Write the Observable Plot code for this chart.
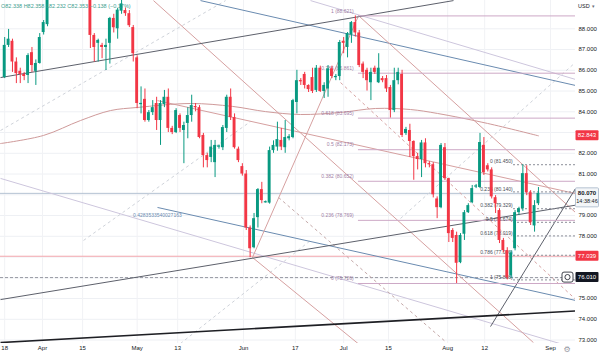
<!DOCTYPE html>
<html><head><meta charset="utf-8">
<script src="https://cdn.jsdelivr.net/npm/d3@7"></script>
<script src="https://cdn.jsdelivr.net/npm/@observablehq/plot@0.6"></script>
<style>
body{margin:0;background:#fff;}
#chart{width:600px;height:355px;overflow:hidden;}
</style>
</head><body><div id="chart"></div>
<script>
// ---- candle data (daily, index k from Mar 18 = 0; first visible candle k = 4) ----
const firstK = 4;
const opens = [85.65,87.2,87.4,86.4,85.95,85.8,85.75,86.85,85.95,86.33,87.82,88.2,89.6,90.2,90.0,90.8,90.4,90.5,91.0,90.3,89.9,90.1,
89.9,87.68,87.3,87.2,87.1,87.3,88.5,88.0,88.85,88.88,88.73,88.06,86.6,84.35,84.6,83.58,83.96,84.4,83.58,84.35,84.7,83.2,83.0,83.82,83.1,83.44,
83.82,84.25,84.2,82.86,81.89,81.8,81.55,82.3,82.27,83.2,84.7,83.72,82.2,81.36,81.0,78.4,77.45,78.9,80.25,79.62,79.6,82.13,82.3,82.62,82.27,82.7,
82.76,84.45,85.5,85.8,85.27,85.65,85.03,86.1,84.98,85.1,86.07,85.65,85.7,87.4,87.1,87.7,88.3,87.8,86.3,86.0,85.4,86.1,85.4,85.6,85.6,85.17,
84.06,85.5,85.8,82.95,83.1,82.57,81.84,81.7,82.5,81.5,81.45,79.8,79.38,82.27,80.78,78.28,78.04,76.73,78.1,79.14,79.62,80.38,80.35,82.38,81.4,81.2,
79.86,79.24,77.8,77.31,76.1,77.4,79.14,79.33,81.02,80.1,78.5,79.57];
const highs = [87.58,87.97,87.5,86.6,86.1,85.9,86.8,87.1,86.5,87.77,88.4,89.9,90.5,90.6,91.0,91.2,90.9,91.3,91.2,90.6,90.3,90.4,
90.1,87.77,87.5,87.3,87.5,88.55,88.7,88.98,89.4,89.0,88.88,88.16,86.7,85.2,85.1,84.06,84.54,84.7,84.54,85.03,85.1,83.3,84.15,83.9,83.5,84.2,
84.8,84.4,84.3,82.96,82.0,82.62,82.62,82.4,83.34,84.8,85.1,83.9,82.3,81.5,81.17,78.5,79.1,80.3,80.6,79.7,82.3,82.6,83.5,83.2,83.58,82.9,
84.6,86.0,85.6,85.9,85.3,86.1,86.23,86.2,85.4,86.23,86.2,85.8,87.44,87.58,87.82,88.35,88.621,87.92,86.4,86.1,86.1,86.2,86.8,85.7,85.75,85.27,
86.1,86.1,86.0,83.25,83.4,82.6,82.0,82.62,82.7,81.6,81.55,79.9,82.47,82.47,80.8,78.37,78.2,78.13,79.24,79.57,80.45,80.5,82.96,82.76,81.5,81.3,
79.96,79.33,77.9,77.45,77.3,79.24,79.4,81.45,81.4,80.2,79.72,80.35];
const lows = [85.6,87.1,85.9,85.36,85.36,85.5,85.36,85.9,85.27,86.3,87.7,88.1,89.4,89.7,89.8,90.1,90.0,90.0,89.9,89.6,89.6,89.7,
87.05,86.4,86.4,86.56,85.99,86.3,87.8,87.5,88.7,88.6,88.06,86.4,84.15,83.9,83.5,83.5,83.82,83.1,82.38,84.2,83.0,82.9,82.95,83.0,81.5,82.7,
83.5,84.0,82.7,81.3,81.3,81.55,80.83,82.2,82.13,83.0,83.58,82.2,81.55,80.9,78.28,76.97,77.4,78.4,79.57,79.6,79.55,82.0,82.1,82.13,82.0,82.6,
82.7,83.9,85.27,85.1,84.93,84.88,84.93,84.93,84.64,84.7,85.6,85.5,85.5,86.8,86.6,87.3,87.6,86.13,85.6,85.0,84.54,85.8,85.36,85.4,84.93,83.7,
83.96,85.3,82.76,82.86,81.8,80.7,81.2,80.83,81.3,81.3,79.85,78.85,79.33,80.69,77.7,77.7,75.726,76.68,77.8,79.1,79.57,80.3,80.3,80.93,81.1,79.8,
79.1,77.65,77.2,75.898,75.97,77.3,79.0,79.2,79.96,78.52,78.2,79.48];
const closes = [87.2,87.5,86.4,85.84,85.8,85.7,86.71,86.23,86.33,87.58,88.3,89.6,90.2,90.0,90.8,90.4,90.5,91.0,90.3,89.9,90.1,89.9,
87.68,87.1,87.44,87.1,87.2,88.5,88.05,88.9,89.2,88.73,88.15,86.8,84.4,84.4,83.58,83.96,84.2,83.58,84.4,84.7,83.2,83.0,84.06,83.2,83.34,83.82,
84.3,84.2,82.76,81.89,81.65,82.3,82.38,82.35,83.24,84.7,83.72,82.27,81.65,81.0,78.4,77.4,78.85,80.25,79.72,79.66,82.13,82.38,82.66,82.3,82.76,82.8,
84.54,85.5,85.45,85.27,85.07,84.98,86.1,84.98,85.27,86.07,85.7,85.7,87.34,87.3,87.77,88.3,87.8,86.23,85.9,85.5,85.9,85.9,86.1,85.5,85.1,84.06,
85.5,85.9,82.86,83.15,82.57,81.84,81.7,82.5,81.5,81.45,80.0,79.38,82.38,80.78,78.13,77.9,76.7,78.04,79.14,79.48,80.3,80.42,82.52,81.07,81.2,79.9,
79.57,77.8,77.31,76.0,77.2,79.14,79.33,81.02,80.1,78.66,79.48,80.07];

// moving average
const maK   = [2.93,13.96,23.46,31.16,38.09,51.69,62.47,70.94,79.93,90.19,99.18,108.15,115.09,127.92,141];
const maVal = [82.47,82.86,83.58,84.06,84.21,84.40,84.26,84.01,83.87,83.97,84.16,84.11,83.92,83.44,82.843];

// axes
const yTicks = [73,74,75,76,77,78,79,80,81,82,83,84,85,86,87,88];
const xTickPos = [4,13.7,24,38,48.4,65.3,78.6,91,102.5,117.7,127.2,144.1];
const xTickLabels = ["18","Apr","15","May","13","Jun","17","Jul","15","Aug","12","Sep"];

// Fibonacci retracements
const fib1Levels = [1,0.786,0.618,0.5,0.382,0.236,0];
const fib1Prices = [88.621,85.861,83.695,82.173,80.652,78.769,75.726];
const fib2Levels = [0,0.236,0.382,0.5,0.618,0.786,1];
const fib2Prices = [81.450,80.140,79.329,78.674,78.019,77.086,75.898];

// horizontal levels / price tags
const lastPrice = 80.070;
const redLevel = 77.039;
const blackLevel = 76.010;
const maLast = 82.843;
const countdown = "14:38:46";
const headerText = "O82.338 H82.358 L82.232 C82.353 −0.138 (−0.17%)";

// trend line anchors [k, price]
const darkLines  = [[[2.93,85.65],[119.2,89.36]], [[2.93,74.95],[150.5,79.50]], [[128.7,73.65],[150.5,80.30]]];
const blackLine  = [[2.93,72.88],[150.5,74.40]];
const blueLines  = [[[54.26,89.36],[150.5,85.27]], [[43.22,79.39],[150.5,74.91]]];
const lavLines   = [[[82.5,89.36],[150.5,85.56]], [[2.93,80.79],[150.5,72.61]]];
const pinkLines  = [[[42.2,89.36],[139.7,72.88]], [[94.8,88.64],[150.5,79.15]], [[67.6,76.98],[95.3,72.74]], [[67.6,76.98],[94.8,88.62]], [[43.22,84.54],[150.5,80.06]]];
const dashGrey   = [[[74.3,79.87],[117.1,72.93]]];
const dashPink   = [[[90.2,85.41],[150.5,74.97]]];
const dashLight  = [[[2.93,83.10],[60.7,89.36]], [[24.23,77.8],[67.1,83.53]], [[49.1,72.83],[82.5,77.8]], [[105.6,78.86],[150.5,86.38]]];
const blueLabel = {k:43.2, p:78.99, text:"0.4283533540027163"};

// ---- build tables ----
const candles = opens.map((o,i)=>({k:firstK+i,o,h:highs[i],l:lows[i],c:closes[i]}));
const ma = maK.map((k,i)=>({k,v:maVal[i]}));
const xTicks = xTickPos.map((k,i)=>({k,label:xTickLabels[i]}));
const fib1 = fib1Levels.map((l,i)=>({l,p:fib1Prices[i]}));
const fib2 = fib2Levels.map((l,i)=>({l,p:fib2Prices[i]}));
const seg = arr => arr.map(s=>({x1:s[0][0],y1:s[0][1],x2:s[1][0],y2:s[1][1]}));
const XMAX = 150.51, XMIN = 2.926;
const UP="#089981", DN="#f23645";
const col = d => d.c >= d.o ? UP : DN;
const minB = 0.06;
const bLo = d => { const lo=Math.min(d.o,d.c), hi=Math.max(d.o,d.c); return hi-lo<minB ? (lo+hi)/2-minB/2 : lo; };
const bHi = d => { const lo=Math.min(d.o,d.c), hi=Math.max(d.o,d.c); return hi-lo<minB ? (lo+hi)/2+minB/2 : hi; };
const font = "Liberation Sans, Arial, sans-serif";
// axis labels hidden behind price tags (as the platform does)
const tagLevels = [maLast, lastPrice, redLevel, blackLevel];
const yLabelTicks = yTicks.filter(t => tagLevels.every(v => Math.abs(v - t) > 0.45) && !(t < lastPrice && lastPrice - t < 0.95));

const linkMark = (arr, opts) => Plot.link(seg(arr), {x1:"x1",y1:"y1",x2:"x2",y2:"y2",clip:true,...opts});

const chart = Plot.plot({
  width:600, height:355,
  marginTop:0, marginBottom:12, marginLeft:0, marginRight:25,
  x:{domain:[XMIN,XMAX], axis:null},
  y:{domain:[72.834,89.364], axis:null},
  style:{fontFamily:font, background:"#fff", color:"#131722"},
  marks:[
    Plot.ruleY(yTicks,{stroke:"#eef0f4"}),
    Plot.ruleX(xTickPos,{stroke:"#f1f2f5"}),
    Plot.ruleY([lastPrice],{stroke:"#b4c2d2",strokeWidth:1}),
    Plot.ruleY([redLevel],{stroke:"#f3a6ad",strokeWidth:1}),
    Plot.ruleY([blackLevel],{stroke:"#9598a1",strokeDasharray:"3,2",strokeWidth:1}),
    linkMark(dashLight,{stroke:"#cfd3da",strokeDasharray:"3,3"}),
    linkMark(lavLines,{stroke:"#cdc6dd"}),
    linkMark(blueLines,{stroke:"#6a8bb0"}),
    linkMark(pinkLines,{stroke:"#d6a0a0"}),
    linkMark(dashGrey,{stroke:"#c4a9a9",strokeDasharray:"3,3"}),
    linkMark(dashPink,{stroke:"#d7a3a3",strokeDasharray:"3,3"}),
    linkMark(darkLines,{stroke:"#5d606b"}),
    Plot.link([blackLine],{x1:d=>d[0][0],y1:d=>d[0][1],x2:d=>d[1][0],y2:d=>d[1][1],stroke:"#1e1f24",strokeWidth:1.6,clip:true}),
    Plot.line(ma,{x:"k",y:"v",stroke:"#cf9a9a",strokeWidth:1,curve:"catmull-rom",clip:true}),
    Plot.ruleY(fib1,{y:"p",x1:94.8,x2:XMAX,stroke:"#cda8c6",strokeWidth:1}),
    Plot.text(fib1,{x:93.6,y:"p",text:d=>`${d.l} (${d.p.toFixed(3)})`,textAnchor:"end",dy:-5,fontSize:5,fill:"#9f7fa6"}),
    Plot.ruleY(fib2,{y:"p",x1:134.6,x2:XMAX,stroke:"#8c8f99",strokeDasharray:"2,2",strokeWidth:1}),
    Plot.text(fib2,{x:134.4,y:"p",text:d=>`${d.l} (${d.p.toFixed(3)})`,textAnchor:"end",dy:-3,fontSize:5,fill:"#4a4d57"}),
    Plot.text([blueLabel],{x:"k",y:"p",text:"text",fontSize:5,fill:"#6a8bb0"}),
    Plot.ruleX(candles,{x:"k",y1:"l",y2:"h",stroke:col,strokeWidth:1,clip:true}),
    Plot.rect(candles,{x1:d=>d.k-0.37,x2:d=>d.k+0.37,y1:bLo,y2:bHi,fill:col,clip:true}),
    Plot.text(yLabelTicks,{y:d=>d,frameAnchor:"right",dx:3,textAnchor:"start",text:d=>d.toFixed(3),fontSize:6,fill:"#131722"}),
    Plot.text(xTicks,{x:"k",text:"label",frameAnchor:"bottom",dy:6,fontSize:6,fill:"#131722"})
  ]
});
document.getElementById("chart").appendChild(chart);

// ---- overlays: price tags, header ----
const svg = d3.select(chart);
const ys = v => chart.scale("y").apply(v);
const addText = (x, y, s, opts={}) => svg.append("text").attr("x",x).attr("y",y)
  .attr("text-anchor",opts.anchor||"start").attr("font-size",opts.size||6)
  .attr("font-family",opts.family||font).attr("font-weight",opts.weight||"normal")
  .attr("fill",opts.fill||"#131722").text(s);
function tag(v, label, bg, fg){
  const y = ys(v);
  svg.append("rect").attr("x",575.5).attr("y",y-5).attr("width",23).attr("height",10)
     .attr("fill",bg).attr("rx",1);
  addText(587, y+2, label, {anchor:"middle", fill:fg});
}
tag(maLast, maLast.toFixed(3), "#f23645", "#fff");
tag(redLevel, redLevel.toFixed(3), "#f23645", "#fff");
tag(blackLevel, blackLevel.toFixed(3), "#131722", "#fff");
{
  const y = ys(lastPrice);
  svg.append("rect").attr("x",575.5).attr("y",y-5).attr("width",23).attr("height",19)
     .attr("fill","#f4f6f8").attr("stroke","#b4c2d2").attr("rx",1);
  addText(587, y+2, lastPrice.toFixed(3), {anchor:"middle", weight:"bold"});
  addText(587, y+10, countdown, {anchor:"middle", size:5.5});
}
{
  const y = ys(blackLevel);
  svg.append("rect").attr("x",562).attr("y",y-5).attr("width",11).attr("height",10).attr("rx",2)
     .attr("fill","#fff").attr("stroke","#131722").attr("stroke-width",0.8);
  svg.append("circle").attr("cx",567.5).attr("cy",y).attr("r",2.6).attr("fill","none").attr("stroke","#131722").attr("stroke-width",0.8);
}
addText(578, 8, "USD", {size:5.5});
addText(592, 8, "▾", {size:5, fill:"#6a6d78"});
addText(567, 352, "⚙", {anchor:"middle", size:8, family:"DejaVu Sans", fill:"#9598a1"});
addText(1, 8, headerText, {size:5.5, fill:"#3e9e8f"});
</script>
</body></html>
